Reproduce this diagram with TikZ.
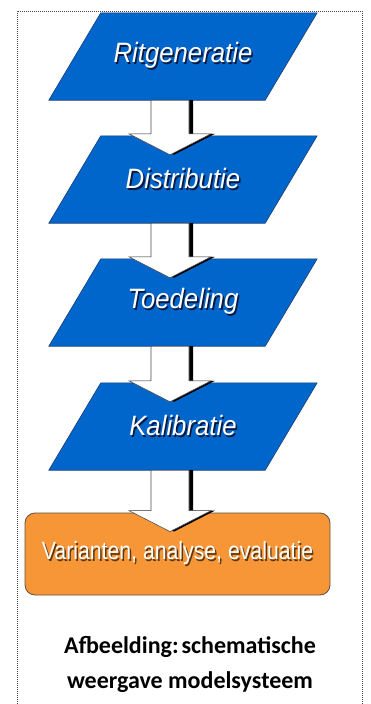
\documentclass[tikz,border=0pt]{standalone}
\usepackage{fontspec}
\setmainfont{Liberation Sans}
\newfontfamily\capfont{Carlito}
\usetikzlibrary{calc,backgrounds}
\definecolor{boxblue}{RGB}{0,102,204}
\definecolor{edgeblue}{RGB}{25,60,115}
\definecolor{boxorange}{RGB}{247,150,55}
\definecolor{edgeorange}{RGB}{95,80,65}
\definecolor{blueshadow}{RGB}{10,25,60}
\definecolor{orangeshadow}{RGB}{90,55,20}
\definecolor{framegray}{RGB}{70,70,70}
\newcommand\shtext[2]{\rlap{\kern1.7pt\raisebox{-1.7pt}{\color{#1}#2}}#2}
\newcommand\drawpara[1]{%
  \path[parafill] ($(#1.north west)+(26pt,0)$) -- ($(#1.north east)+(26pt,0)$)
    -- ($(#1.south east)+(-26pt,0)$) -- ($(#1.south west)+(-26pt,0)$) -- cycle;}
\newcommand\fatarrow[4]{% from, to, style, dx
  \path[#3] let \p1=(#1.south), \p2=(#2.north) in
    (\x1-32pt+#4,\y1) -- (\x1-32pt+#4,\y2+2pt) -- (\x1-54pt+#4,\y2+2pt)
    -- (\x1-13pt+#4,\y2-19pt) -- (\x1+28pt+#4,\y2+2pt) -- (\x1+6pt+#4,\y2+2pt)
    -- (\x1+6pt+#4,\y1) -- cycle;}
\tikzset{
  stepnode/.style={minimum width=216pt, minimum height=87pt, inner sep=0pt,
    text=white, font=\fontsize{28}{30}\selectfont\itshape},
  parafill/.style={fill=boxblue, draw=edgeblue, line width=0.6pt},
  endnode/.style={minimum width=305pt, minimum height=82pt, inner sep=0pt,
    rounded corners=10pt, fill=boxorange, draw=edgeorange, line width=0.8pt,
    text=white, font=\fontsize{25}{27}\selectfont},
  capnode/.style={align=center, inner sep=0pt,
    font=\capfont\bfseries\fontsize{24}{35}\selectfont},
  arrowbody/.style={fill=white, draw=gray!60!black, line width=0.6pt},
  arrowshadow/.style={fill=black},
  framestyle/.style={draw=framegray, line width=1pt, dash pattern=on 1pt off 1pt},
}
\begin{document}
\begin{tikzpicture}[x=1pt,y=-1pt]
\useasboundingbox (0,0) rectangle (370,704);
\draw[framestyle] (17,704) -- (17,11) -- (362,11) -- (362,704);

\node[stepnode] (p1) at (183,56.5) {\scalebox{0.92}[1]{\shtext{blueshadow}{Ritgeneratie}}};
\node[stepnode] (p2) at (183,179.5) {\scalebox{0.92}[1]{\shtext{blueshadow}{Distributie}}};
\node[stepnode] (p3) at (183,302.5) {\scalebox{0.92}[1]{\shtext{blueshadow}{Toedeling}}};
\node[stepnode] (p4) at (183,426.5) {\scalebox{0.92}[1]{\shtext{blueshadow}{Kalibratie}}};
\node[endnode] (v) at (177.5,554) {\scalebox{0.85}[1]{\shtext{orangeshadow}{Varianten, analyse, evaluatie}}};

\begin{scope}[on background layer]
  \drawpara{p1}
  \drawpara{p2}
  \drawpara{p3}
  \drawpara{p4}
\end{scope}

\fatarrow{p1}{p2}{arrowshadow}{4pt}
\fatarrow{p1}{p2}{arrowbody}{0pt}
\fatarrow{p2}{p3}{arrowshadow}{4pt}
\fatarrow{p2}{p3}{arrowbody}{0pt}
\fatarrow{p3}{p4}{arrowshadow}{4pt}
\fatarrow{p3}{p4}{arrowbody}{0pt}
\fatarrow{p4}{v}{arrowshadow}{4pt}
\fatarrow{p4}{v}{arrowbody}{0pt}

\node[capnode] (cap) at (190,664) {Afbeelding:\hspace{0.12em}schematische\\weergave modelsysteem};
\end{tikzpicture}
\end{document}
